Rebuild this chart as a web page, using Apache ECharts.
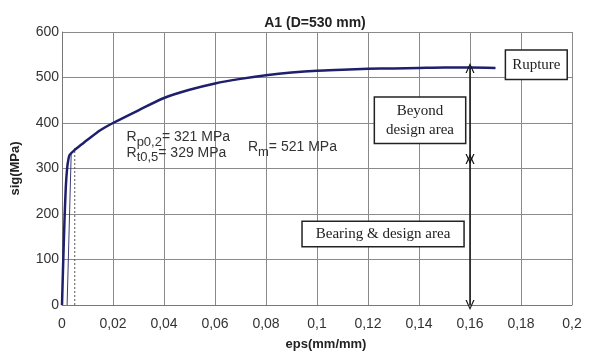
<!DOCTYPE html>
<html>
<head>
<meta charset="utf-8">
<script src="https://cdn.jsdelivr.net/npm/echarts@6/dist/echarts.min.js"></script>
<style>
  html, body { margin: 0; padding: 0; background: #fff; }
  #chart { width: 593px; height: 351px; }
</style>
</head>
<body>
<div id="chart"></div>
<script>
// stress-strain curve
const eps = [0, 0.0005, 0.001, 0.0015, 0.002, 0.0025, 0.003, 0.005, 0.0075, 0.01, 0.015, 0.02,
  0.03, 0.04, 0.05, 0.06, 0.07, 0.08, 0.09, 0.1, 0.11, 0.12, 0.13, 0.14, 0.15, 0.16, 0.17]
const sig = [0, 100, 190, 260, 300, 320, 330, 341, 352, 363, 384, 400,
  428, 455, 473, 487, 497, 505, 511, 515, 517, 519, 520, 521, 522, 522, 521]

// 0.2% offset line and the 0.5% total strain line
const offsetEps = [0.002, 0.0036]
const offsetSig = [0, 332]
const totalEps = [0.005, 0.005]
const totalSig = [0, 345]

// design areas (arrows at eps = 0.16)
const arrowEps = 0.16
const limits = [0, 321, 521]

const xTicks = [0, 0.2, 0.02]   // min, max, step
const yTicks = [0, 600, 100]

const serif = '"Liberation Serif", "DejaVu Serif", serif'
const sans = '"Liberation Sans", Arial, sans-serif'

let myChart = echarts.init(document.getElementById('chart'))

// open "V" arrow head
const arrowHead = 'path://M0,10 L5,0 L10,10 L8.6,10 L5,2.6 L1.4,10 Z'

let option = {
  animation: false,
  title: {
    text: 'A1 (D=530 mm)',
    left: 310,
    textAlign: 'center',
    top: 11,
    textStyle: { fontFamily: sans, fontSize: 14, fontWeight: 'bold', color: '#222' }
  },
  grid: { left: 62, right: 21, top: 32, bottom: 46, outerBoundsMode: 'none', containLabel: false },
  xAxis: {
    type: 'value',
    min: xTicks[0], max: xTicks[1], interval: xTicks[2],
    name: 'eps(mm/mm)',
    nameLocation: 'middle',
    nameGap: 33,
    nameTextStyle: { fontFamily: sans, fontSize: 13, fontWeight: 'bold', color: '#222', padding: [0, 0, 0, 18] },
    axisLine: { show: true, lineStyle: { color: '#777' } },
    axisTick: { show: false },
    axisLabel: {
      margin: 12,
      fontFamily: sans, fontSize: 14, color: '#333',
      formatter: v => String(+v.toFixed(2)).replace('.', ',')
    },
    splitLine: { lineStyle: { color: '#8a8a8a', width: 1 } }
  },
  yAxis: {
    type: 'value',
    min: yTicks[0], max: yTicks[1], interval: yTicks[2],
    name: 'sig(MPa)',
    nameLocation: 'middle',
    nameGap: 40,
    nameRotate: 90,
    nameTextStyle: { fontFamily: sans, fontSize: 13, fontWeight: 'bold', color: '#222' },
    axisLine: { show: true, lineStyle: { color: '#777' } },
    axisTick: { show: false },
    axisLabel: { margin: 3, fontFamily: sans, fontSize: 14, color: '#333' },
    splitLine: { lineStyle: { color: '#8a8a8a', width: 1 } }
  },
  series: [
    {
      type: 'line',
      data: offsetEps.map((e, i) => [e, offsetSig[i]]),
      showSymbol: false,
      lineStyle: { color: '#3a3a7a', width: 1 }
    },
    {
      type: 'line',
      data: totalEps.map((e, i) => [e, totalSig[i]]),
      showSymbol: false,
      lineStyle: { color: '#555', width: 1, type: [2, 2] }
    },
    {
      type: 'line',
      data: eps.map((e, i) => [e, sig[i]]),
      showSymbol: false,
      smooth: 0.25,
      lineStyle: { color: '#1f1f6e', width: 2.5 },
      z: 3
    },
    {
      // double-headed arrows for the two areas
      type: 'line',
      data: [],
      markLine: {
        silent: true,
        symbol: [arrowHead, arrowHead],
        symbolSize: [9, 10],
        symbolOffset: 0,
        label: { show: false },
        lineStyle: { color: '#111', width: 1.5, type: 'solid' },
        data: [
          [{ coord: [arrowEps, limits[2]] }, { coord: [arrowEps, limits[1]] }],
          [{ coord: [arrowEps, limits[1]] }, { coord: [arrowEps, limits[0]] }]
        ]
      }
    },
    {
      // boxed notes
      type: 'scatter',
      data: [],
      markPoint: {
        symbol: 'rect',
        symbolSize: 0,
        silent: true,
        label: {
          show: true,
          position: 'inside',
          fontFamily: serif,
          fontSize: 15,
          color: '#222',
          backgroundColor: '#fff',
          borderColor: '#222',
          borderWidth: 1.5,
          align: 'center',
          verticalAlign: 'middle',
          lineHeight: 19,
          formatter: p => p.name
        },
        data: [
          { name: 'Rupture', coord: [0.186, 528], label: { padding: [5, 6, 4, 6] } },
          { name: 'Beyond\ndesign area', coord: [0.1404, 406], label: { padding: [4, 11, 3, 11] } },
          { name: 'Bearing & design area', coord: [0.1259, 156], label: { padding: [3, 13, 2, 13] } }
        ]
      }
    },
    {
      // strength values
      type: 'scatter',
      data: [],
      markPoint: {
        symbol: 'rect',
        symbolSize: 0,
        silent: true,
        label: {
          show: true,
          position: 'right',
          distance: 0,
          fontFamily: sans,
          fontSize: 14,
          color: '#333',
          formatter: p => p.name,
          rich: {
            r: { fontFamily: sans, fontSize: 14, color: '#333' },
            s: { fontFamily: sans, fontSize: 13, color: '#333', padding: [9, 0, 0, 0] },
            v: { fontFamily: sans, fontSize: 14, color: '#333' }
          }
        },
        data: [
          { name: '{r|R}{s|p0,2}{v|= 321 MPa}', coord: [0.0253, 368] },
          { name: '{r|R}{s|t0,5}{v|= 329 MPa}', coord: [0.0253, 334] },
          { name: '{r|R}{s|m}{v|= 521 MPa}', coord: [0.0729, 346] }
        ]
      }
    }
  ]
}

myChart.setOption(option, true)
</script>
</body>
</html>
